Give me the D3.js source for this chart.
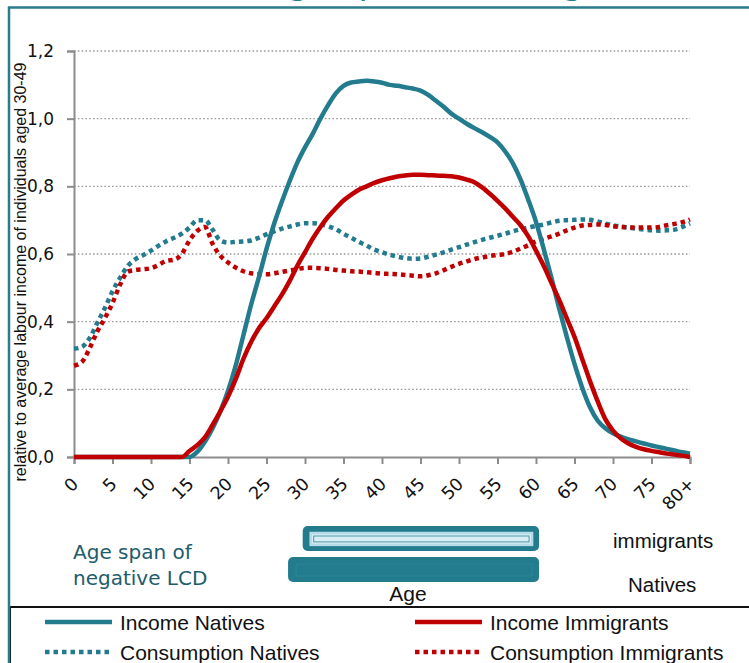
<!DOCTYPE html>
<html>
<head>
<meta charset="utf-8">
<script src="https://cdn.jsdelivr.net/npm/d3@7"></script>
<style>
  body { margin: 0; background: #fff; }
  svg { display: block; }
</style>
</head>
<body>
<svg id="chart" width="749" height="663"></svg>
<script>
// [age, value] pairs
const incomeNatives = [[0,0],[15,0],[16,0.015],[17,0.045],[18,0.085],[19,0.135],[20,0.195],[21,0.27],[22,0.36],[23,0.45],[24,0.53],[25,0.615],[26,0.69],[27,0.755],[28,0.815],[29,0.87],[30,0.915],[31,0.955],[32,1.0],[33,1.04],[34,1.075],[35,1.097],[36,1.107],[37,1.11],[38,1.112],[39,1.11],[40,1.106],[41,1.1],[42,1.097],[43,1.093],[44,1.089],[45,1.083],[46,1.07],[47,1.053],[48,1.035],[49,1.015],[50,1.0],[51,0.985],[52,0.972],[53,0.96],[54,0.946],[55,0.93],[56,0.903],[57,0.868],[58,0.82],[59,0.76],[60,0.695],[61,0.615],[62,0.53],[63,0.44],[64,0.355],[65,0.275],[66,0.205],[67,0.148],[68,0.108],[69,0.085],[70,0.07],[71,0.06],[72,0.052],[73,0.046],[74,0.04],[75,0.034],[76,0.029],[77,0.024],[78,0.019],[79,0.014],[80,0.01]];
const incomeImmigrants = [[0,0],[14,0],[15,0.018],[16,0.035],[17,0.058],[18,0.095],[19,0.135],[20,0.178],[21,0.23],[22,0.29],[23,0.34],[24,0.38],[25,0.41],[26,0.445],[27,0.48],[28,0.52],[29,0.565],[30,0.605],[31,0.645],[32,0.68],[33,0.71],[34,0.735],[35,0.758],[36,0.775],[37,0.79],[38,0.8],[39,0.81],[40,0.818],[41,0.824],[42,0.829],[43,0.832],[44,0.834],[45,0.834],[46,0.833],[47,0.832],[48,0.831],[49,0.83],[50,0.826],[51,0.82],[52,0.812],[53,0.797],[54,0.778],[55,0.757],[56,0.735],[57,0.71],[58,0.685],[59,0.652],[60,0.61],[61,0.565],[62,0.515],[63,0.465],[64,0.41],[65,0.355],[66,0.29],[67,0.225],[68,0.165],[69,0.112],[70,0.078],[71,0.055],[72,0.04],[73,0.03],[74,0.023],[75,0.018],[76,0.014],[77,0.01],[78,0.007],[79,0.004],[80,0]];
const consNatives = [[0,0.32],[1,0.325],[2,0.35],[3,0.395],[4,0.44],[5,0.49],[6,0.53],[7,0.565],[8,0.585],[9,0.597],[10,0.61],[11,0.625],[12,0.638],[13,0.648],[14,0.66],[15,0.678],[16,0.7],[17,0.7],[18,0.672],[19,0.64],[20,0.634],[21,0.636],[22,0.637],[23,0.64],[24,0.648],[25,0.658],[26,0.667],[27,0.675],[28,0.681],[29,0.687],[30,0.691],[31,0.691],[32,0.688],[33,0.682],[34,0.673],[35,0.66],[36,0.648],[37,0.636],[38,0.625],[39,0.613],[40,0.605],[41,0.598],[42,0.592],[43,0.588],[44,0.586],[45,0.587],[46,0.592],[47,0.598],[48,0.605],[49,0.613],[50,0.62],[51,0.628],[52,0.635],[53,0.642],[54,0.648],[55,0.654],[56,0.66],[57,0.667],[58,0.673],[59,0.678],[60,0.683],[61,0.687],[62,0.693],[63,0.698],[64,0.7],[65,0.701],[66,0.702],[67,0.701],[68,0.696],[69,0.69],[70,0.685],[71,0.681],[72,0.678],[73,0.675],[74,0.672],[75,0.67],[76,0.669],[77,0.67],[78,0.672],[79,0.68],[80,0.69]];
const consImmigrants = [[0,0.27],[1,0.28],[2,0.32],[3,0.37],[4,0.41],[5,0.455],[6,0.51],[7,0.548],[8,0.553],[9,0.555],[10,0.558],[11,0.568],[12,0.58],[13,0.583],[14,0.6],[15,0.64],[16,0.668],[17,0.68],[18,0.63],[19,0.595],[20,0.575],[21,0.56],[22,0.549],[23,0.543],[24,0.541],[25,0.54],[26,0.543],[27,0.547],[28,0.551],[29,0.555],[30,0.559],[31,0.559],[32,0.558],[33,0.556],[34,0.553],[35,0.551],[36,0.549],[37,0.548],[38,0.546],[39,0.544],[40,0.542],[41,0.541],[42,0.54],[43,0.538],[44,0.536],[45,0.534],[46,0.537],[47,0.543],[48,0.552],[49,0.562],[50,0.571],[51,0.578],[52,0.585],[53,0.59],[54,0.594],[55,0.597],[56,0.6],[57,0.607],[58,0.616],[59,0.626],[60,0.637],[61,0.645],[62,0.652],[63,0.66],[64,0.67],[65,0.678],[66,0.684],[67,0.686],[68,0.687],[69,0.686],[70,0.682],[71,0.68],[72,0.679],[73,0.678],[74,0.678],[75,0.678],[76,0.68],[77,0.685],[78,0.689],[79,0.694],[80,0.702]];

const yTicks = [0, 0.2, 0.4, 0.6, 0.8, 1.0, 1.2];
const xTicks = d3.range(0, 81, 5);
const xTickLabels = xTicks.map((d) => (d === 80 ? "80+" : String(d)));

// age span of negative LCD (bars under the axis)
const spanGroups = ["immigrants", "Natives"];
const spanStart = [29.7, 27.8];
const spanEnd = [60.4, 60.4];

const teal = "#237b8e";
const red = "#c00000";
const grey = "#8c8c8c";

const svg = d3.select("#chart");
svg.append("rect").attr("width", 749).attr("height", 663).attr("fill", "#fff");

// title, mostly cut off at the top
svg.append("text")
  .attr("x", -72).attr("y", -6)
  .attr("font-family", "DejaVu Sans, Verdana, sans-serif")
  .attr("font-size", 34)
  .attr("fill", teal)
  .text("Labour income and age span of immigrants");

const xScale = d3.scaleLinear().domain([0, 80]).range([74, 690]);
const yScale = d3.scaleLinear().domain([0, 1.2]).range([457, 51]);

// gridlines
svg.append("g")
  .selectAll("line")
  .data(yTicks.slice(1))
  .enter()
  .append("line")
  .attr("x1", xScale(0)).attr("x2", xScale(80))
  .attr("y1", (d) => yScale(d)).attr("y2", (d) => yScale(d))
  .attr("stroke", "#9a9a9a")
  .attr("stroke-width", 1.3)
  .attr("stroke-dasharray", "1.6,2.2");

const commaFmt = (d) => d3.format(".1f")(d).replace(".", ",");

const yAxisG = svg.append("g")
  .attr("transform", `translate(${xScale(0)},0)`)
  .call(d3.axisLeft(yScale).tickValues(yTicks).tickFormat(commaFmt).tickSize(7).tickPadding(13));
const xAxisG = svg.append("g")
  .attr("transform", `translate(0,${yScale(0)})`)
  .call(d3.axisBottom(xScale).tickValues(xTicks).tickFormat((d, i) => xTickLabels[i]).tickSize(7));

[yAxisG, xAxisG].forEach((g) => {
  g.select(".domain").attr("stroke", grey).attr("stroke-width", 2);
  g.selectAll(".tick line").attr("stroke", grey).attr("stroke-width", 2);
  g.selectAll("text")
    .attr("font-family", "DejaVu Sans, Verdana, sans-serif")
    .attr("font-size", 17)
    .attr("fill", "#111");
});
xAxisG.selectAll(".tick text")
  .attr("y", 0).attr("dy", 0)
  .attr("text-anchor", "end")
  .attr("font-size", 17.5)
  .attr("transform", "translate(5,28) rotate(-45)");

// y axis title
svg.append("text")
  .attr("transform", `translate(26,${(yScale(0) + yScale(1.2)) / 2 + 18}) rotate(-90)`)
  .attr("text-anchor", "middle")
  .attr("font-family", "Liberation Sans, Arial, sans-serif")
  .attr("font-size", 16)
  .attr("fill", "#111")
  .text("relative to average labour income of individuals aged 30-49");

const lineGen = d3.line()
  .x((d) => xScale(d[0]))
  .y((d) => yScale(d[1]))
  .curve(d3.curveMonotoneX);

const series = [
  { data: consNatives, color: teal, dash: "4.5,4" },
  { data: consImmigrants, color: red, dash: "4.5,4" },
  { data: incomeNatives, color: teal, dash: null },
  { data: incomeImmigrants, color: red, dash: null },
];

svg.append("g")
  .selectAll("path")
  .data(series)
  .enter()
  .append("path")
  .attr("d", (d) => lineGen(d.data))
  .attr("fill", "none")
  .attr("stroke", (d) => d.color)
  .attr("stroke-width", 4.5)
  .attr("stroke-linejoin", "round")
  .attr("stroke-dasharray", (d) => d.dash);

// age span bars
const bandY = d3.scaleBand().domain(spanGroups).range([526, 582]).paddingInner(0.2);
const labelY = [548, 592];
const labelX = [613, 628];
const bars = svg.append("g");
spanGroups.forEach((grp, i) => {
  const x0 = xScale(spanStart[i]);
  const x1 = xScale(spanEnd[i]);
  const y0 = bandY(grp);
  const h = bandY.bandwidth();
  bars.append("rect")
    .attr("x", x0).attr("y", y0)
    .attr("width", x1 - x0).attr("height", h)
    .attr("rx", 5)
    .attr("fill", teal);
  if (i === 0) {
    bars.append("rect")
      .attr("x", x0 + 8).attr("y", y0 + 7)
      .attr("width", x1 - x0 - 15).attr("height", h - 13)
      .attr("fill", "#d9eef4")
      .attr("stroke", "#b5dbe6")
      .attr("stroke-width", 2.5);
    bars.append("rect")
      .attr("x", x0 + 11).attr("y", y0 + 10)
      .attr("width", x1 - x0 - 21).attr("height", h - 19)
      .attr("fill", "none")
      .attr("stroke", "#4d97a8")
      .attr("stroke-width", 1);
  } else {
    bars.append("rect")
      .attr("x", x0 + 8).attr("y", y0 + 7)
      .attr("width", x1 - x0 - 15).attr("height", h - 13)
      .attr("fill", "none")
      .attr("stroke", "#2f8598")
      .attr("stroke-width", 1);
  }
  svg.append("text")
    .attr("x", labelX[i]).attr("y", labelY[i])
    .attr("font-family", "Liberation Sans, Arial, sans-serif")
    .attr("font-size", 20.5)
    .attr("fill", "#111")
    .text(grp);
});

svg.append("text")
  .attr("x", 73).attr("y", 559)
  .attr("font-family", "DejaVu Sans, Verdana, sans-serif")
  .attr("font-size", 20)
  .attr("fill", "#215c6b")
  .text("Age span of");
svg.append("text")
  .attr("x", 73).attr("y", 585)
  .attr("font-family", "DejaVu Sans, Verdana, sans-serif")
  .attr("font-size", 20)
  .attr("fill", "#215c6b")
  .text("negative LCD");

svg.append("text")
  .attr("x", 408).attr("y", 601)
  .attr("text-anchor", "middle")
  .attr("font-family", "Liberation Sans, Arial, sans-serif")
  .attr("font-size", 21)
  .attr("fill", "#111")
  .text("Age");

// legend
svg.append("rect")
  .attr("x", 10).attr("y", 607)
  .attr("width", 760).attr("height", 80)
  .attr("fill", "#fff")
  .attr("stroke", "#111")
  .attr("stroke-width", 2);

const legendItems = [
  { name: "Income Natives", color: teal, dash: null, x: 45, y: 622 },
  { name: "Income Immigrants", color: red, dash: null, x: 415, y: 622 },
  { name: "Consumption Natives", color: teal, dash: "4.5,4", x: 45, y: 652 },
  { name: "Consumption Immigrants", color: red, dash: "4.5,4", x: 415, y: 652 },
];
const legend = svg.append("g");
legendItems.forEach((d) => {
  legend.append("line")
    .attr("x1", d.x).attr("x2", d.x + 67)
    .attr("y1", d.y).attr("y2", d.y)
    .attr("stroke", d.color)
    .attr("stroke-width", 4.5)
    .attr("stroke-dasharray", d.dash);
  legend.append("text")
    .attr("x", d.x + 75).attr("y", d.y + 8)
    .attr("font-family", "Liberation Sans, Arial, sans-serif")
    .attr("font-size", 21)
    .attr("fill", "#111")
    .text(d.name);
});

// frame
svg.append("path")
  .attr("d", "M9,663 V7.5 H749")
  .attr("fill", "none")
  .attr("stroke", "#2a7b8e")
  .attr("stroke-width", 2.5);
</script>
</body>
</html>
